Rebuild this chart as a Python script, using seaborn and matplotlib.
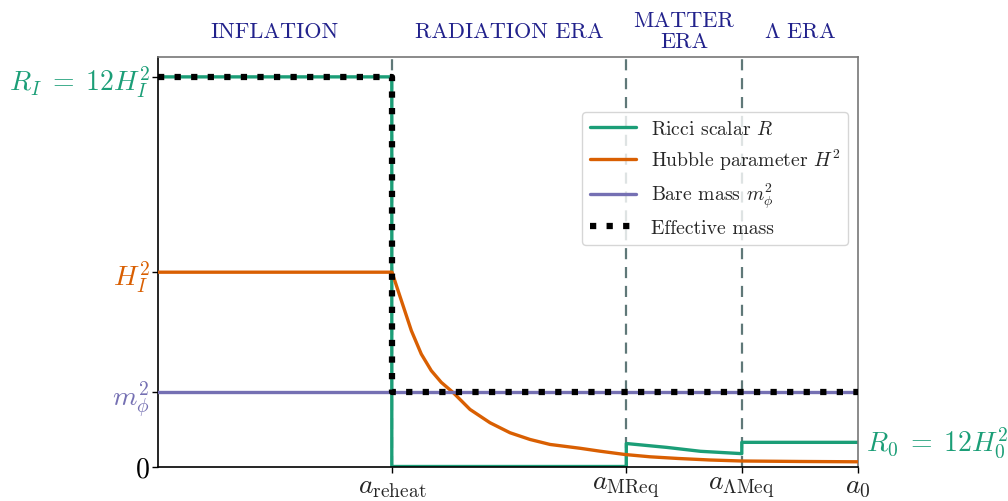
import matplotlib
matplotlib.use("Agg")
import matplotlib.pyplot as plt
import seaborn as sns

# ---- data ----
era_bounds = [0.0, 0.334, 0.669, 0.834, 1.0]
era_names = ["INFLATION", "RADIATION ERA", "MATTER\nERA", r"$\Lambda$ ERA"]

xtick_pos = [0.334, 0.669, 0.834, 1.0]
xtick_labels = [r"$a_{\rm reheat}$", r"$a_{\rm MReq}$", r"$a_{\Lambda{\rm Meq}}$", r"$a_0$"]

ytick_pos = [0.0, 0.19, 0.5, 1.0]
ytick_labels = ["$0$", r"$m_\phi^2$", r"$H_I^2$", r"$R_I \;=\; 12H_I^2$"]

ricci_x = [0.0, 0.334, 0.334, 0.669, 0.669, 0.727, 0.775, 0.834, 0.834, 1.0]
ricci_y = [1.0, 1.0, 0.0, 0.0, 0.059, 0.049, 0.039, 0.033, 0.062, 0.062]

hubble_x = [0.0, 0.3343, 0.3429, 0.3524, 0.3619, 0.3761, 0.3904, 0.4047, 0.4214,
            0.4457, 0.4743, 0.5029, 0.5314, 0.5600, 0.6029, 0.6314, 0.6671,
            0.7029, 0.7429, 0.7886, 0.834, 0.917, 1.0]
hubble_y = [0.4987, 0.4987, 0.4517, 0.4003, 0.3488, 0.2887, 0.2460, 0.2159, 0.1902,
            0.1465, 0.1123, 0.0866, 0.0694, 0.0566, 0.0468, 0.0393, 0.0308,
            0.0249, 0.0206, 0.0167, 0.0141, 0.0129, 0.0121]

bare_x = [0.0, 1.0]
bare_y = [0.19, 0.19]

eff_x = [0.0, 0.334, 0.334, 1.0]
eff_y = [1.0, 1.0, 0.19, 0.19]

R0_value = 0.062

# ---- style ----
sns.set_style("white")
plt.rcParams["font.family"] = ["serif"]
plt.rcParams["font.serif"] = ["cmr10", "DejaVu Serif"]
plt.rcParams["mathtext.fontset"] = "cm"
plt.rcParams["axes.unicode_minus"] = False
plt.rcParams["axes.formatter.use_mathtext"] = True

green = "#1b9e77"
orange = "#d95f02"
purple = "#7570b3"
eracol = "#22228c"

fig = plt.figure(figsize=(10.08, 5.02), dpi=100)
ax = fig.add_axes([158/1008, 1 - 467.5/502, 700/1008, 409.5/502])

for xb in era_bounds[1:-1]:
    ax.axvline(xb, color="#5f7878", lw=1.6, ls=(0, (5, 3.5)), zorder=1)

sns.lineplot(x=ricci_x, y=ricci_y, sort=False, estimator=None, color=green,
             lw=2.4, ax=ax, label=r"Ricci scalar $R$", zorder=2)
sns.lineplot(x=hubble_x, y=hubble_y, sort=False, estimator=None, color=orange,
             lw=2.4, ax=ax, label=r"Hubble parameter $H^2$", zorder=3)
sns.lineplot(x=bare_x, y=bare_y, sort=False, estimator=None, color=purple,
             lw=2.4, ax=ax, label=r"Bare mass $m_\phi^2$", zorder=3)
sns.lineplot(x=eff_x, y=eff_y, sort=False, estimator=None, color="black",
             lw=4.5, ls=":", ax=ax, label="Effective mass", zorder=4)

ax.set_xlim(0, 1.0)
ax.set_ylim(0, 1.051)

ax.set_xticks(xtick_pos)
ax.set_xticklabels(xtick_labels, fontsize=20)
ax.set_yticks(ytick_pos)
ax.set_yticklabels(ytick_labels, fontsize=20)
for lab, c in zip(ax.get_yticklabels(), ["black", purple, orange, green]):
    lab.set_color(c)
ax.tick_params(axis="both", which="both", direction="out", length=4, width=1,
               color="black", bottom=True, left=True)
ax.tick_params(axis="x", pad=0.5)
ax.tick_params(axis="y", pad=2)

for s in ["left", "bottom"]:
    ax.spines[s].set_color("black")
    ax.spines[s].set_linewidth(1.2)
for s in ["top", "right"]:
    ax.spines[s].set_color("#777777")
    ax.spines[s].set_linewidth(1.2)

for i, name in enumerate(era_names):
    xc = 0.5 * (era_bounds[i] + era_bounds[i + 1])
    ax.annotate(name, xy=(xc, 1.064), xycoords=("data", "axes fraction"),
                ha="center", va="center", fontsize=16, color=eracol,
                linespacing=1.1, annotation_clip=False)

ax.text(1.012, R0_value, r"$R_0 \;=\; 12H_0^2$", color=green, fontsize=20,
        ha="left", va="center", clip_on=False, transform=ax.transData)

leg = ax.legend(loc="upper right", bbox_to_anchor=(0.986, 0.866),
                borderaxespad=0, fontsize=14.2, handlelength=2.33,
                handletextpad=0.76, labelspacing=0.45, borderpad=0.4,
                frameon=True, fancybox=True)

fig.savefig("out.png", dpi=100)
